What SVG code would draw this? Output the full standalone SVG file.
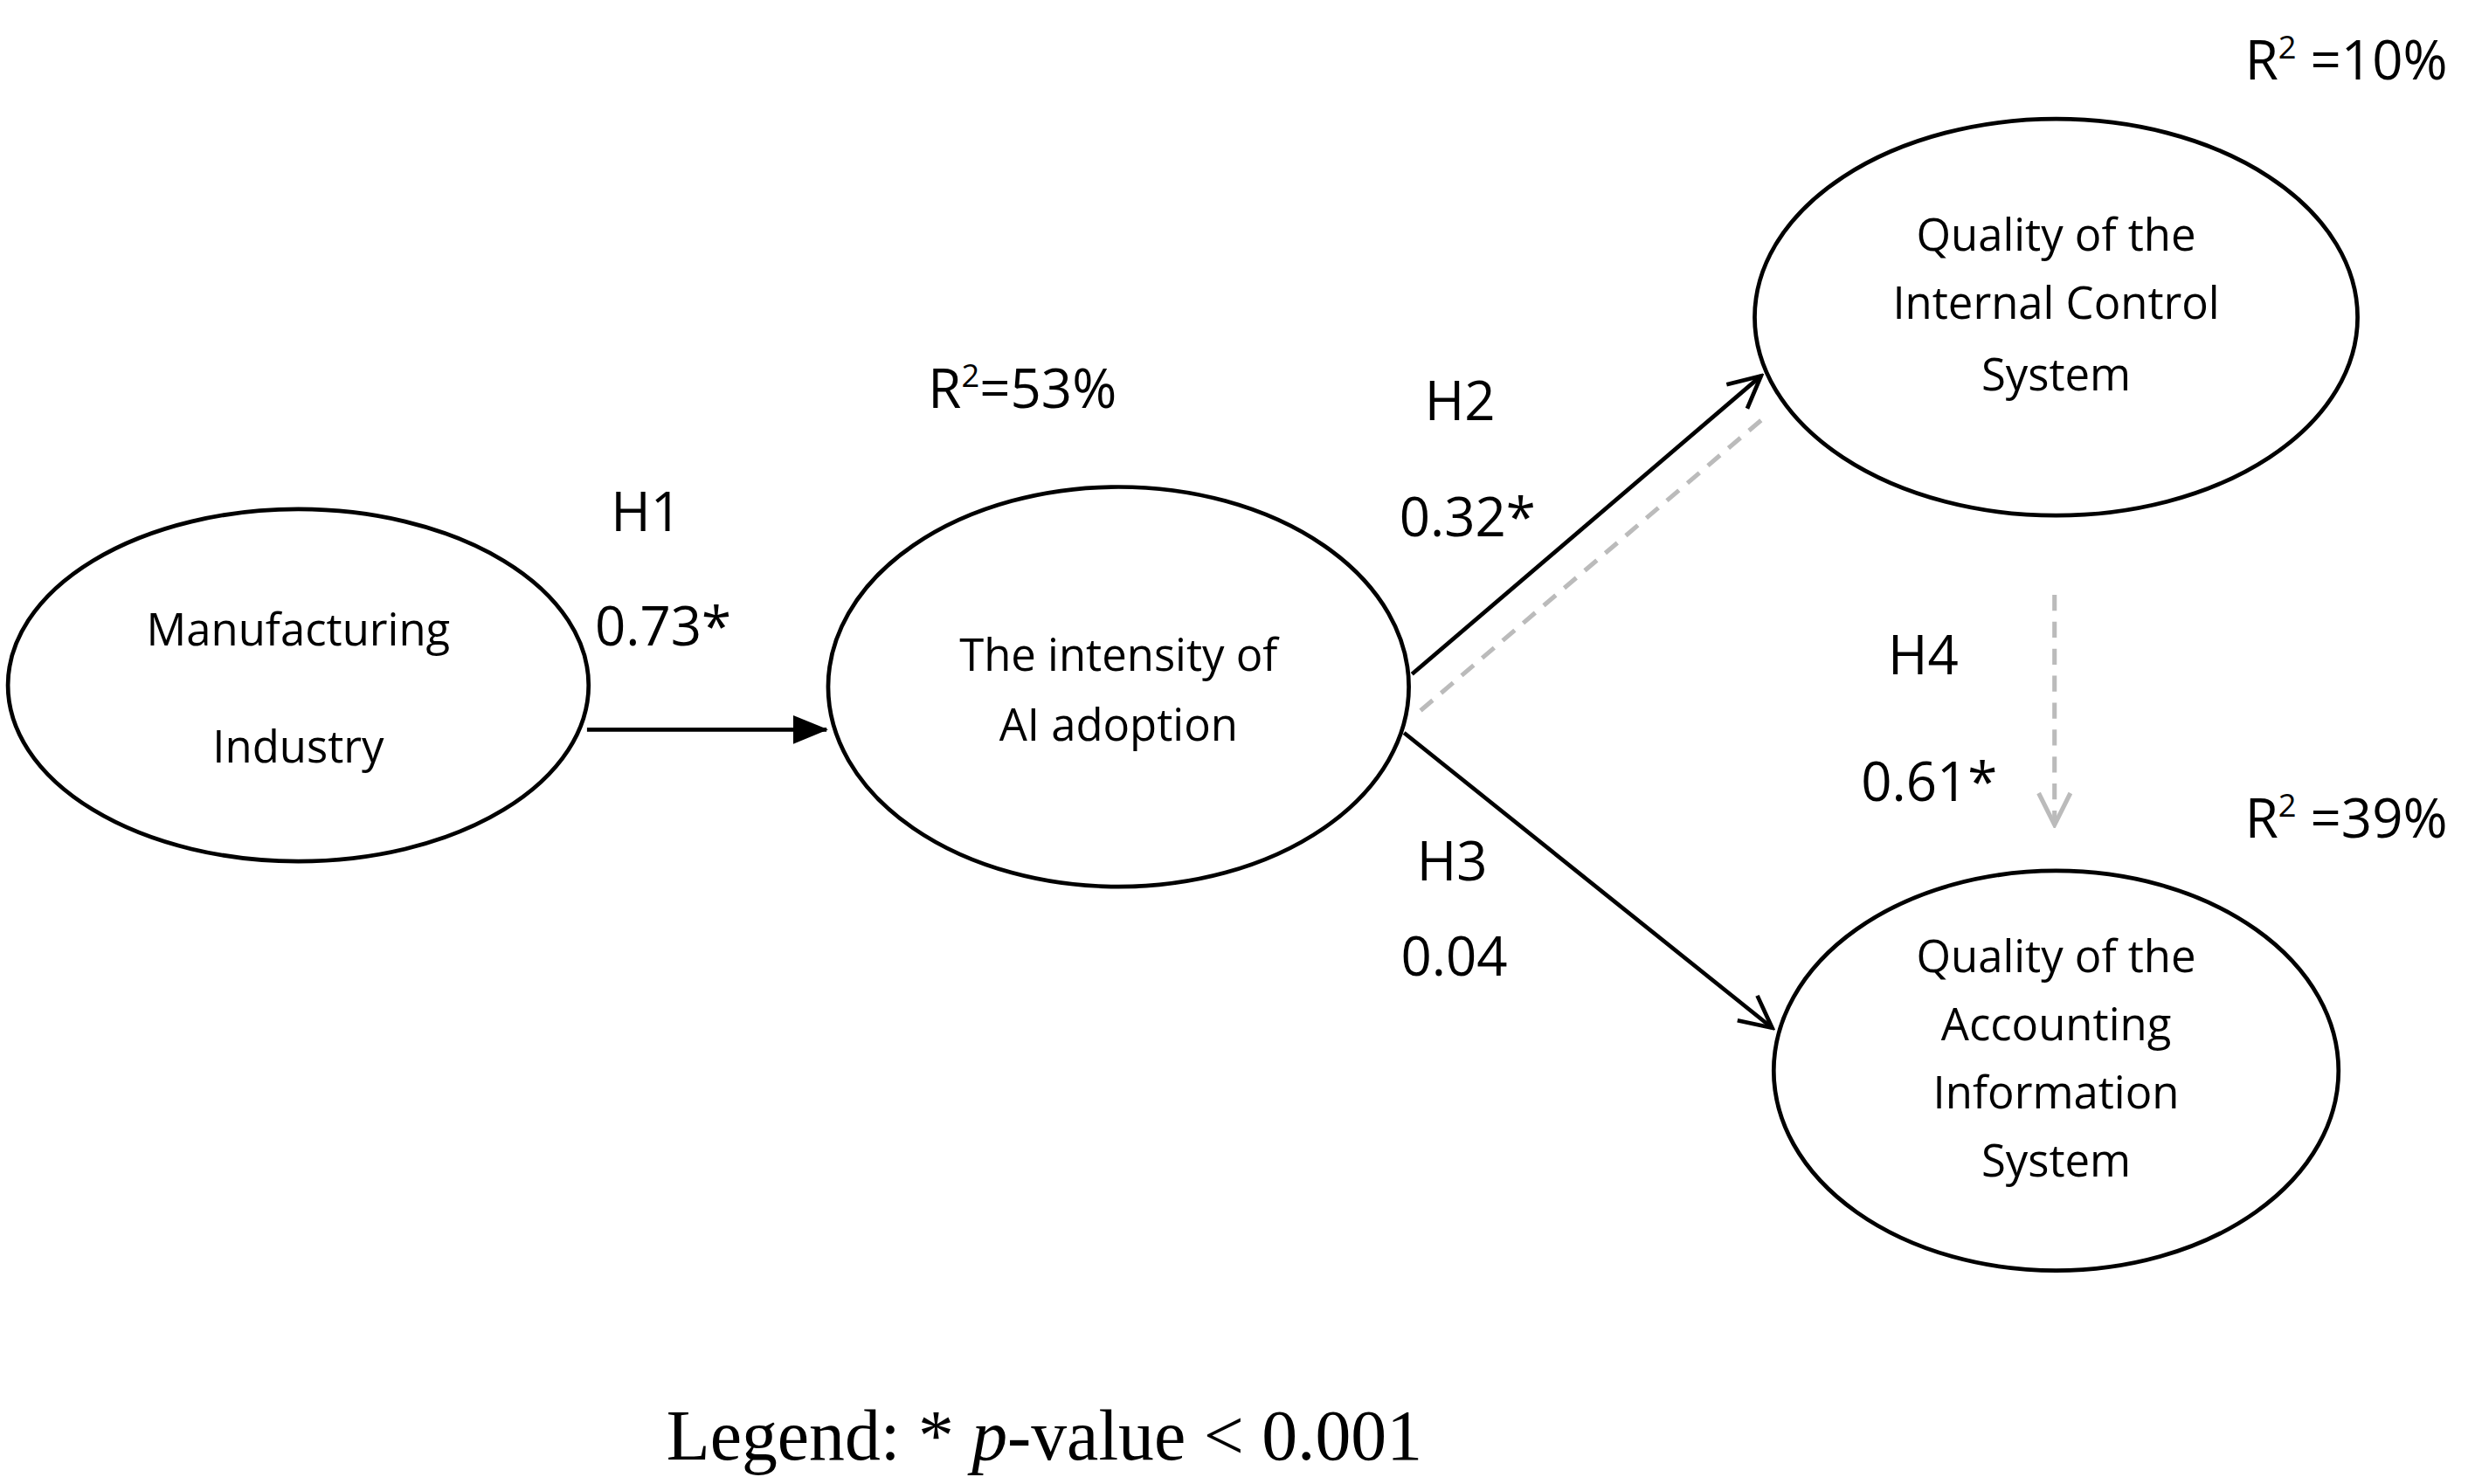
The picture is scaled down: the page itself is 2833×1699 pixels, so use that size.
<svg xmlns="http://www.w3.org/2000/svg" width="2833" height="1699" viewBox="0 0 2833 1699">
<style>
.n{fill:#fff;stroke:#000;stroke-width:2.6}
.t{font-family:"Open Sans","Liberation Sans",sans-serif;font-size:28px;text-anchor:middle;fill:#000}
.l{font-family:"Open Sans","Liberation Sans",sans-serif;font-size:34px;fill:#000}
.s{font-size:20px}
.c{stroke:#000;stroke-width:2.6;fill:none}
.d{stroke:#bbb;stroke-width:2.8;fill:none;stroke-dasharray:10,7}
</style>
<defs>
<marker id="f" markerWidth="22" markerHeight="18" refX="21" refY="9" orient="auto" markerUnits="userSpaceOnUse"><path d="M0,0 L22,9 L0,18 Z" fill="#000"/></marker>
<marker id="o" markerWidth="24" markerHeight="24" refX="22" refY="12" orient="auto" markerUnits="userSpaceOnUse"><path d="M2,2 L22,12 L2,22" fill="none" stroke="#000" stroke-width="2.6"/></marker>
<marker id="og" markerWidth="24" markerHeight="24" refX="22" refY="12" orient="auto" markerUnits="userSpaceOnUse"><path d="M2,2 L22,12 L2,22" fill="none" stroke="#bbb" stroke-width="2.8"/></marker>
</defs>
<rect width="2833" height="1699" fill="#fff"/>
<g transform="scale(1.816)">
<g id="connectors">
<line class="c" x1="370" y1="460" x2="521" y2="460" marker-end="url(#f)"/>
<line class="c" x1="890" y1="425" x2="1110" y2="237" marker-end="url(#o)"/>
<line class="d" x1="1110" y1="265" x2="893" y2="450"/>
<line class="c" x1="885" y1="462" x2="1117" y2="648" marker-end="url(#o)"/>
<line class="d" x1="1295" y1="375" x2="1295" y2="520" marker-end="url(#og)"/>
</g>
<g id="manufacturing"><ellipse class="n" cx="188" cy="432" rx="183" ry="111"/>
<text class="t" x="188" y="407">Manufacturing</text><text class="t" x="188" y="481">Industry</text></g>
<g id="ai"><ellipse class="n" cx="705" cy="433" rx="183" ry="126"/>
<text class="t" x="705" y="423">The intensity of</text><text class="t" x="705" y="467">AI adoption</text></g>
<g id="internal"><ellipse class="n" cx="1296" cy="200" rx="190" ry="125"/>
<text class="t" x="1296" y="158">Quality of the</text><text class="t" x="1296" y="201">Internal Control</text><text class="t" x="1296" y="246">System</text></g>
<g id="accounting"><ellipse class="n" cx="1296" cy="675" rx="178" ry="126"/>
<text class="t" x="1296" y="613">Quality of the</text><text class="t" x="1296" y="656">Accounting</text><text class="t" x="1296" y="699">Information</text><text class="t" x="1296" y="742">System</text></g>
<g id="labels">
<text class="l" x="1415" y="50">R<tspan class="s" dy="-13">2</tspan><tspan dy="13"> =10%</tspan></text>
<text class="l" x="585" y="257">R<tspan class="s" dy="-13">2</tspan><tspan dy="13">=53%</tspan></text>
<text class="l" x="898" y="265">H2</text><text class="l" x="882" y="338">0.32*</text>
<text class="l" x="385" y="335">H1</text><text class="l" x="375" y="407">0.73*</text>
<text class="l" x="1190" y="425">H4</text><text class="l" x="1173" y="505">0.61*</text>
<text class="l" x="1415" y="528">R<tspan class="s" dy="-13">2</tspan><tspan dy="13"> =39%</tspan></text>
<text class="l" x="893" y="555">H3</text><text class="l" x="883" y="615">0.04</text>
<text x="420" y="920" font-family="'Liberation Serif',serif" font-size="45">Legend: * <tspan font-style="italic">p</tspan>-value &lt; 0.001</text>
</g>
</g>
</svg>
